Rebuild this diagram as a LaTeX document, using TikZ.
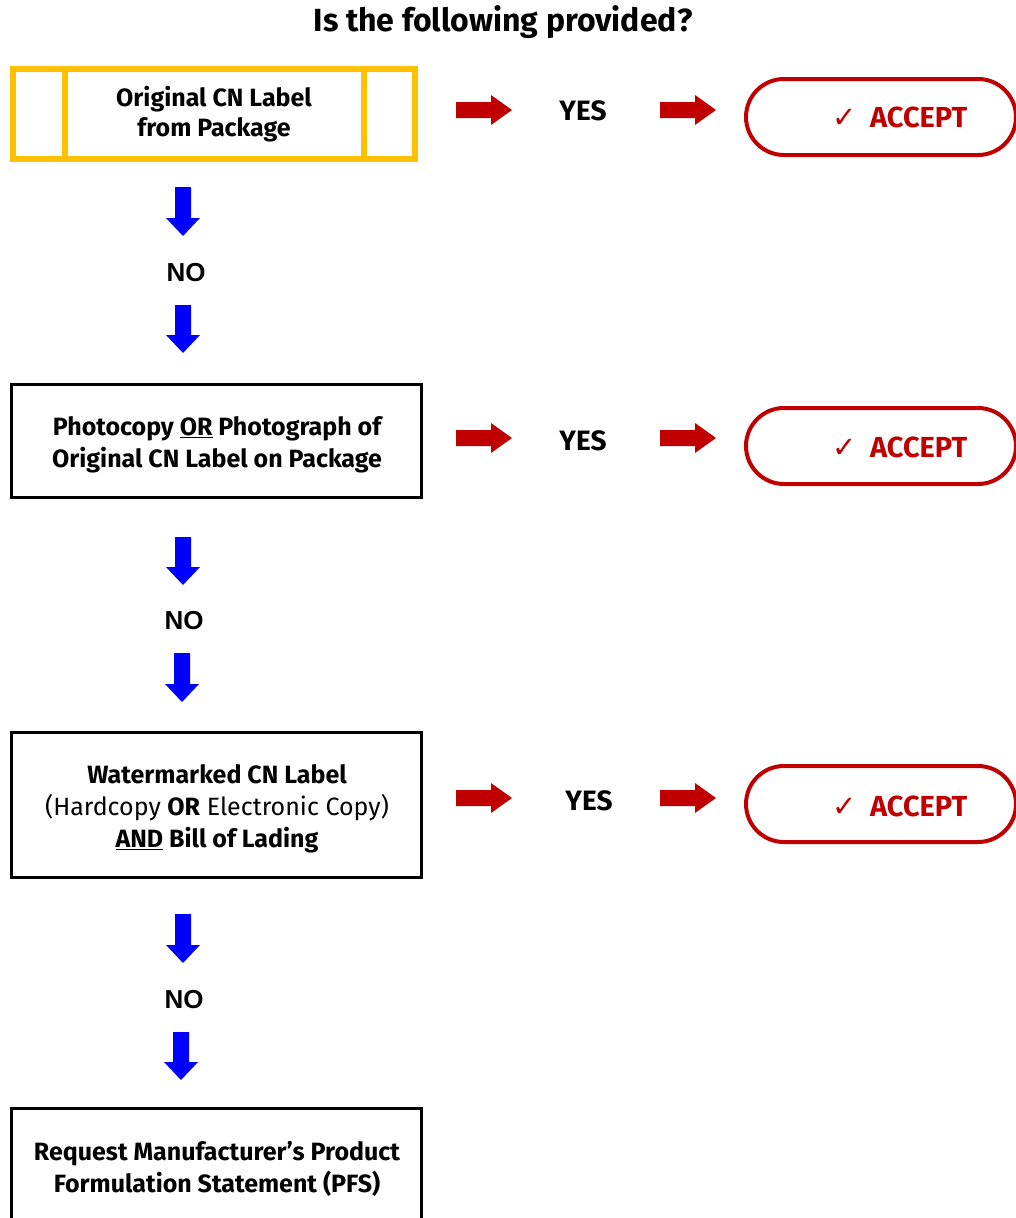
\documentclass[tikz,border=0pt]{standalone}
\usepackage{fontspec}
\setmainfont{Fira Sans}
\newfontfamily\arialfont{Liberation Sans}
\newfontfamily\dejavu{DejaVu Sans}
\usetikzlibrary{calc}
\definecolor{accred}{HTML}{C00000}
\definecolor{ylw}{HTML}{FFC000}
\definecolor{arrblue}{HTML}{0000FF}
\begin{document}
\begin{tikzpicture}[x=1pt,y=-1pt,
  boxtext/.style={align=center,font=\fontsize{25}{32}\selectfont\bfseries,inner sep=0pt},
  stepframe/.style={draw=black,line width=3pt},
  pill/.style={draw=accred,line width=4pt,rounded corners=38pt},
  acctext/.style={text=accred,font=\fontsize{29}{32}\selectfont\bfseries,inner sep=0pt},
  yestext/.style={font=\fontsize{28}{30}\selectfont\bfseries,inner sep=0pt},
  notext/.style={font=\arialfont\fontsize{26}{28}\selectfont\bfseries,inner sep=0pt},
  redarr/.style={fill=accred},
  bluearr/.style={fill=arrblue}]
\useasboundingbox (0,0) rectangle (1015,1218);
\fill[white] (0,0) rectangle (1015,1218);

\newcommand\RedArrow[2]{%
  \fill[redarr] ($(#1,#2)+(0,-8)$) -- ++(35,0) -- ++(0,-7) -- ++(21,15) -- ++(-21,15) -- ++(0,-7) -- ++(-35,0) -- cycle;}
\newcommand\BlueArrow[3]{%
  \fill[bluearr] ($(#1,#2)+(-8,0)$) -- ($(#1,#3)+(-8,-18)$) -- ++(-9,0) -- ($(#1,#3)$) -- ($(#1,#3)+(17,-18)$) -- ++(-9,0) -- ($(#1,#2)+(8,0)$) -- cycle;}
\newcommand\AccText{{\dejavu\mdseries\fontsize{29}{30}\selectfont ✓}\hspace{13pt}ACCEPT}

% title
\node[font=\fontsize{32}{34}\selectfont\bfseries,inner sep=0pt] (title) at (503,22) {Is the following provided?};

% box 1 (yellow)
\draw[draw=ylw,line width=6pt] (13,69) rectangle (415,159);
\draw[draw=ylw,line width=6pt] (65,69) -- (65,159);
\draw[draw=ylw,line width=6pt] (364,69) -- (364,159);
\node[boxtext,font=\fontsize{25}{30}\selectfont\bfseries] (b1) at (214,114) {Original CN Label\\from Package};

% box 2
\draw[stepframe] (11.5,384.5) rectangle (421.5,497.5);
\node[boxtext] (b2) at (217,445) {Photocopy \underline{OR} Photograph of\\Original CN Label on Package};

% box 3
\draw[stepframe] (11.5,732.5) rectangle (421.5,877.5);
\node[boxtext] (b3) at (217,809) {Watermarked CN Label\\{\mdseries(Hardcopy \textbf{OR} Electronic Copy)}\\\underline{AND} Bill of Lading};

% box 4
\draw[stepframe] (11.5,1108.5) rectangle (421.5,1240);
\node[boxtext] (b4) at (217,1169) {Request Manufacturer’s Product\\Formulation Statement (PFS)};

% YES rows
\foreach \yy/\ty/\px/\n in {110/111/583/1,438/441/583/2,798/801/589/3}{
  \RedArrow{456}{\yy}
  \RedArrow{660}{\yy}
  \node[yestext] (yes\n) at (\px,\ty) {YES};
}
\draw[pill] (746,79) rectangle (1016,155);
\node[acctext] (acc1) at (900,117) {\AccText};
\draw[pill] (746,408) rectangle (1016,484);
\node[acctext] (acc2) at (900,447) {\AccText};
\draw[pill] (746,766) rectangle (1016,842);
\node[acctext] (acc3) at (900,806) {\AccText};

% NO columns
\BlueArrow{183}{187}{236}
\node[notext] (no1) at (186,273) {NO};
\BlueArrow{183}{305}{353}
\BlueArrow{183}{537}{585}
\node[notext] (no2) at (184,621) {NO};
\BlueArrow{182}{653}{702}
\BlueArrow{183}{914}{963}
\node[notext] (no3) at (184,1000) {NO};
\BlueArrow{181}{1032}{1080}
\end{tikzpicture}
\end{document}
